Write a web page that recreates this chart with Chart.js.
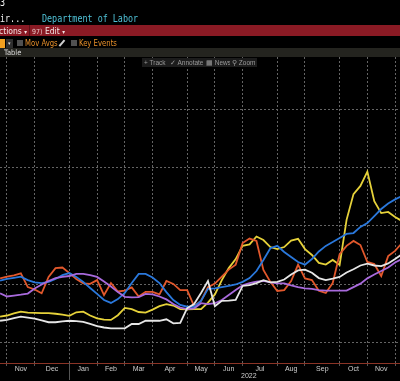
<!DOCTYPE html>
<html><head><meta charset="utf-8">
<script src="https://cdn.jsdelivr.net/npm/chart.js@4.4.0/dist/chart.umd.min.js"></script>
<style>
html,body{margin:0;padding:0;background:#000;width:400px;height:381px;overflow:hidden;}
#wrap{position:relative;width:400px;height:381px;background:#000;}
canvas{position:absolute;left:0;top:0;}
.abs{position:absolute;white-space:nowrap;line-height:1;}
.mono{font-family:"DejaVu Sans Mono","Liberation Mono",monospace;font-size:10.5px;transform:scaleX(0.8);transform-origin:0 0;}
.sans{font-family:"DejaVu Sans Condensed","Liberation Sans Narrow","Liberation Sans",sans-serif;}
.btn{position:absolute;top:58px;height:9px;background:#1c1c1c;color:#9a9a9a;font-family:"Liberation Sans",Arial,sans-serif;font-size:6.5px;line-height:9px;padding:0 2px;white-space:nowrap;overflow:hidden;}
</style></head>
<body><div id="wrap">
<canvas id="c" width="400" height="381"></canvas>
<div class="abs mono" style="left:0;top:-3px;color:#f2f2f2;">3</div>
<div class="abs mono" style="left:0;top:13px;color:#eeeeee;">ir...</div>
<div class="abs mono" style="left:42px;top:13px;color:#4fc2d8;">Department of Labor</div>
<div class="abs" style="left:0;top:25px;width:400px;height:11px;background:#8a1a24;"></div>
<div class="abs" style="left:29px;top:25px;width:1px;height:11px;background:#5e0f17;"></div>
<div class="abs sans" style="left:-1px;top:26.5px;font-size:8.5px;color:#f3e6e6;">ctions <span style="font-size:6px;">&#9662;</span></div>
<div class="abs sans" style="left:32px;top:26.5px;font-size:8.5px;color:#f3e6e6;"><span style="font-size:7px;color:#e8c8c8;">97)</span> Edit <span style="font-size:6px;">&#9662;</span></div>
<div class="abs" style="left:0;top:39px;width:5px;height:9px;background:#f2a020;"></div>
<div class="abs" style="left:6px;top:39px;width:7px;height:9px;background:#2e2e2e;color:#ddd;font-size:5px;line-height:9px;text-align:center;">&#9662;</div>
<div class="abs" style="left:17px;top:40px;width:6px;height:6px;background:#505050;"></div>
<div class="abs sans" style="left:25px;top:38.5px;font-size:8.5px;color:#e8902a;transform:scaleX(0.9);transform-origin:0 0;">Mov Avgs</div>
<div class="abs" style="left:61px;top:39px;width:1.5px;height:8px;background:#cfcfcf;transform:rotate(40deg);"></div>
<div class="abs" style="left:71px;top:40px;width:6px;height:6px;background:#505050;"></div>
<div class="abs sans" style="left:79px;top:38.5px;font-size:8.5px;color:#e8902a;transform:scaleX(0.9);transform-origin:0 0;">Key Events</div>
<div class="abs" style="left:0;top:48px;width:400px;height:9px;background:#24241f;"></div>
<div class="abs sans" style="left:4px;top:49px;font-size:7.5px;color:#dddddd;">Table</div>
<div class="btn" style="left:142px;">+ Track</div>
<div class="btn" style="left:168px;">&#10003; Annotate</div>
<div class="btn" style="left:204px;">&#9638; News</div>
<div class="btn" style="left:230px;">&#9906; Zoom</div>
<div class="abs" style="left:69px;top:363px;width:1px;height:17px;background:#555;"></div>
<div class="abs" style="left:241px;top:371.5px;font-family:'Liberation Sans',Arial,sans-serif;font-size:7px;color:#cfcfcf;">2022</div>
</div>
<script>
// Week-ending dates (Fridays)
const weeks = ['2021-10-29','2021-11-05','2021-11-12','2021-11-19','2021-11-26','2021-12-03','2021-12-10','2021-12-17','2021-12-24','2021-12-31',
'2022-01-07','2022-01-14','2022-01-21','2022-01-28','2022-02-04','2022-02-11','2022-02-18','2022-02-25','2022-03-04','2022-03-11','2022-03-18','2022-03-25',
'2022-04-01','2022-04-08','2022-04-15','2022-04-22','2022-04-29','2022-05-06','2022-05-13','2022-05-20','2022-05-27','2022-06-03','2022-06-10','2022-06-17','2022-06-24',
'2022-07-01','2022-07-08','2022-07-15','2022-07-22','2022-07-29','2022-08-05','2022-08-12','2022-08-19','2022-08-26','2022-09-02','2022-09-09','2022-09-16','2022-09-23','2022-09-30',
'2022-10-07','2022-10-14','2022-10-21','2022-10-28','2022-11-04','2022-11-11','2022-11-18','2022-11-25','2022-12-02','2022-12-09'];
const monthLabels = ['Nov','Dec','Jan','Feb','Mar','Apr','May','Jun','Jul','Aug','Sep','Oct','Nov'];
const yGridValues = [80,100,120,140,160];

const blueSeries = [101.3,101.9,102.3,102.7,101.5,100.7,100.5,100.9,101.9,103.2,103.9,102.6,100.9,98.8,96.8,94.7,93.7,95.0,97.1,100.5,103.6,103.6,102.4,100.5,97.4,94.7,93.0,92.4,92.4,94.4,98.5,98.7,99.1,99.5,100.0,100.9,102.2,104.6,108.4,112.4,113.2,111.1,109.4,107.7,106.8,108.7,111.3,113.2,114.5,115.9,117.3,117.6,119.7,121.0,123.4,125.8,127.7,129.1,130.3];
const redSeries = [102.1,102.7,103.1,103.8,99.1,98.3,97.0,102.6,105.6,105.8,103.9,101.9,100.4,100.2,101.5,96.4,100.5,97.6,97.9,99.0,95.9,97.5,97.5,96.6,101.2,100.2,98.1,98.1,92.6,94.4,99.1,100.3,102.7,105.1,106.8,114.2,115.7,114.9,105.0,100.9,97.8,98.1,101.2,106.8,102.1,101.5,97.9,97.1,100.5,110.4,113.2,114.9,113.5,107.7,107.0,102.9,109.7,111.5,114.2];
const purpleSeries = [97.0,95.9,96.2,96.5,96.9,98.6,100.0,101.2,102.2,102.6,102.9,103.6,103.6,103.2,102.6,101.0,99.3,97.4,95.8,95.6,95.7,96.8,96.6,95.9,94.9,93.3,92.1,91.6,91.8,93.6,93.3,93.6,94.7,96.4,98.1,99.7,100.5,101.0,101.2,100.7,100.4,100.4,99.7,99.1,98.7,98.5,98.1,97.9,97.9,97.9,97.9,99.1,100.3,102.1,103.4,104.6,105.8,107.5,108.7];
const yellowSeries = [89.0,89.4,90.1,90.7,90.4,90.3,90.2,90.2,90.0,89.7,89.3,90.5,90.7,89.4,88.4,88.0,87.9,89.5,92.0,91.6,90.6,90.4,91.4,92.6,93.3,92.8,91.6,91.5,91.6,91.6,93.8,96.6,101.5,105.6,108.7,113.2,113.7,116.4,115.2,112.8,112.1,112.8,115.0,115.6,112.1,110.1,107.4,106.8,108.4,106.7,122.1,130.9,133.7,138.6,128.5,124.4,124.8,123.1,121.7];
const whiteSeries = [87.6,87.9,88.5,89.0,88.7,88.3,87.7,87.1,87.1,87.4,87.6,87.5,87.2,86.5,85.8,85.3,85.0,85.0,85.0,86.5,86.5,87.6,87.6,87.6,88.1,86.7,86.9,91.9,93.3,97.1,101.2,92.6,94.4,94.5,94.7,99.5,99.8,100.5,101.5,100.7,100.9,101.7,103.4,104.8,105.1,104.0,102.2,101.5,102.0,102.6,104.1,105.2,106.5,107.1,106.5,106.3,107.2,108.7,110.4];

// week position: index relative to first week (first week at -1)
const pos = k => k - 1;
const monthStarts = [];
for (let k = 1; k < weeks.length; k++) {
  if (weeks[k].slice(0,7) !== weeks[k-1].slice(0,7)) monthStarts.push(pos(k));
}
const monthMids = [];
for (let m = 0; m + 1 < monthStarts.length; m++) monthMids.push((monthStarts[m] + monthStarts[m+1]) / 2);

const toPts = arr => arr.map((v,k) => ({x: pos(k), y: v}));
const gridColor = 'rgba(105,105,105,0.95)';
const X_MIN = -1.01, X_MAX = 56.71;

const ds = (data, color) => ({data: toPts(data), borderColor: color, borderWidth: 1.8, pointRadius: 0, tension: 0, fill: false});

new Chart(document.getElementById('c'), {
  type: 'line',
  data: { datasets: [
    ds(whiteSeries, '#e6e6e6'),
    ds(purpleSeries, '#a86adc'),
    ds(blueSeries, '#2a78dc'),
    ds(redSeries, '#e2582c'),
    ds(yellowSeries, '#e6d23a')
  ]},
  options: {
    responsive: false, animation: false, events: [],
    layout: { padding: { top: 57, left: 0, right: 0, bottom: 0 } },
    plugins: { legend: {display: false}, tooltip: {enabled: false} },
    scales: {
      x: { type: 'linear', min: X_MIN, max: X_MAX, position: 'bottom',
        afterBuildTicks: s => { s.ticks = monthStarts.map(v => ({value: v})); },
        ticks: { display: false },
        grid: { color: gridColor, lineWidth: 1, drawTicks: true, tickLength: 3, tickColor: '#555' },
        border: { display: true, color: '#8b3426', width: 1, dash: [2,2] },
        afterFit: s => { s.height = 1; } },
      xl: { type: 'linear', min: X_MIN, max: X_MAX, position: 'bottom',
        afterBuildTicks: s => { s.ticks = monthMids.map(v => ({value: v})); },
        ticks: { autoSkip: false, maxRotation: 0, minRotation: 0, padding: 1, color: '#cfcfcf',
          font: { size: 7, family: "'Liberation Sans', Arial, sans-serif" },
          callback: (v, i) => monthLabels[i] },
        grid: { display: false, drawTicks: false }, border: { display: false },
        afterFit: s => { s.height = 17; } },
      y: { min: 73.16, max: 177.78,
        afterBuildTicks: s => { s.ticks = yGridValues.map(v => ({value: v})); },
        ticks: { display: false },
        grid: { color: gridColor, drawTicks: false },
        border: { display: false, dash: [2,2] },
        afterFit: s => { s.width = 0; } }
    }
  }
});
</script>
</body></html>
